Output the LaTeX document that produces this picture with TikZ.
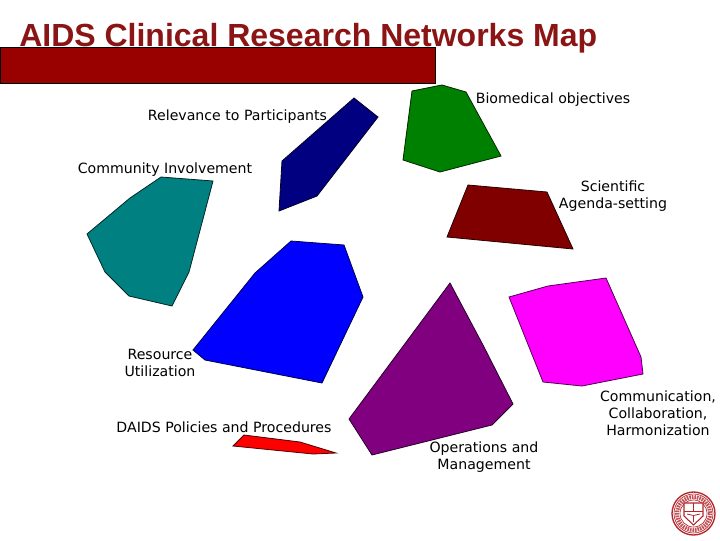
\documentclass[tikz,border=0pt]{standalone}
\usepackage{fontspec}
\setmainfont{DejaVu Sans}
\newfontfamily\titlefont{Liberation Sans}
\definecolor{barred}{HTML}{990000}
\definecolor{titlered}{HTML}{8B1414}
\definecolor{sealred}{HTML}{B3262B}
\definecolor{navypatch}{HTML}{000080}
\definecolor{greenpatch}{HTML}{008000}
\definecolor{maroonpatch}{HTML}{800000}
\definecolor{tealpatch}{HTML}{008080}
\definecolor{bluepatch}{HTML}{0000FF}
\definecolor{redpatch}{HTML}{FF0000}
\definecolor{purplepatch}{HTML}{800080}
\definecolor{magentapatch}{HTML}{FF00FF}
\tikzset{
  patch/.style={draw=black!70!#1, line width=0.6pt, fill=#1},
  lbl/.style={align=center, font=\fontsize{10.6}{12.75}\selectfont, inner sep=0pt}
}
\begin{document}
\begin{tikzpicture}[x=0.75pt,y=-0.75pt]
\useasboundingbox (0,0) rectangle (720,540);

\node [anchor=base west, text=titlered, inner sep=0pt, font=\titlefont\fontsize{24}{26}\selectfont\bfseries] (title) at (19,46) {AIDS Clinical Research Networks Map};
\draw [black, line width=0.6pt, fill=barred] (0,47.5) rectangle (435,83);

\draw [patch=navypatch] (354,98) -- (378,117) -- (317,196) -- (279,211) -- (282,161) -- cycle;
\draw [patch=greenpatch] (412,91) -- (442,85) -- (466,92) -- (501,156) -- (440,172) -- (403,160) -- cycle;
\draw [patch=maroonpatch] (468,185) -- (547,192) -- (573,249) -- (447,237) -- cycle;
\draw [patch=tealpatch] (161,177) -- (213,181) -- (189,272) -- (172,306) -- (129,296) -- (105,272) -- (87,234) -- (130,198) -- cycle;
\draw [patch=bluepatch] (291,241) -- (344,245) -- (363,297) -- (322,383) -- (205,360) -- (193,350) -- (255,273) -- cycle;
\draw [patch=redpatch] (244,435) -- (300,442) -- (336,453) -- (313,454) -- (233,446) -- cycle;
\draw [patch=purplepatch] (450,283) -- (483,345) -- (513,404) -- (492,425) -- (372,455) -- (349,419) -- cycle;
\draw [patch=magentapatch] (509,297) -- (548,286) -- (606,278) -- (641,357) -- (643,374) -- (582,386) -- (543,382) -- cycle;

\node [lbl] (relevance) at (237.5,117) {Relevance to Participants};
\node [lbl] (community) at (165,170) {Community Involvement};
\node [lbl] (biomedical) at (553,100) {Biomedical objectives};
\node [lbl] (scientific) at (613,196) {Scientific\\Agenda-setting};
\node [lbl] (resource) at (160,362.5) {Resource\\Utilization};
\node [lbl] (daids) at (224,427.5) {DAIDS Policies and Procedures};
\node [lbl] (operations) at (484,457.5) {Operations and\\Management};
\node [lbl] (communication) at (658,413.5) {Communication,\\Collaboration,\\Harmonization};

% seal
\coordinate (seal) at (693.5,513.5);
\draw [sealred, line width=1pt] (seal) circle (21.5);
\draw [sealred, line width=0.5pt] (seal) circle (19.5);
\draw [sealred!80, line width=3pt, dash pattern=on 1.2pt off 0.7pt] (seal) circle (16.5);
\draw [sealred, line width=0.5pt] (seal) circle (13.5);
\draw [sealred, line width=0.8pt, fill=white] (684,503) -- (703,503) -- (703,516) -- (693.5,525) -- (684,516) -- cycle;
\draw [sealred, line width=0.7pt] (684,511) -- (703,511) (693.5,503) -- (693.5,511);
\draw [sealred, line width=0.6pt] (687,514) -- (693.5,515.5) -- (700,514) (693.5,515.5) -- (693.5,522);
\end{tikzpicture}
\end{document}
